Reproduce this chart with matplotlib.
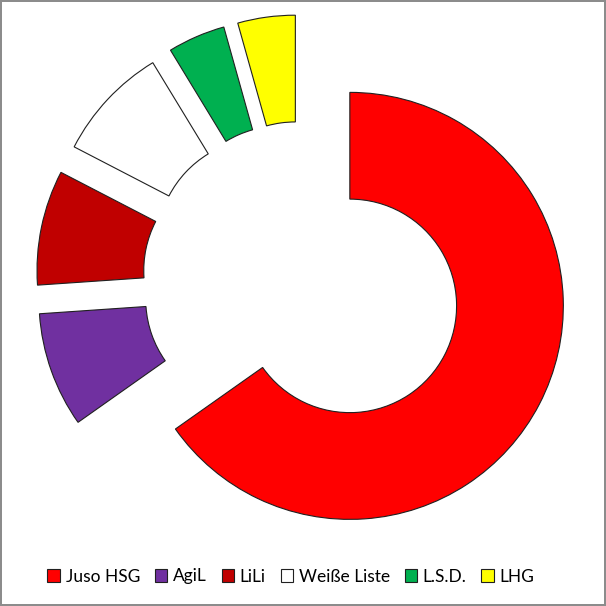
import matplotlib
matplotlib.use("Agg")
import matplotlib.pyplot as plt

# Sitze je Liste
listen = ["Juso HSG", "AgiL", "LiLi", "Weiße Liste", "L.S.D.", "LHG"]
sitze = [15, 2, 2, 2, 1, 1]
farben = ["#FF0000", "#7030A0", "#C00000", "#FFFFFF", "#00B050", "#FFFF00"]

plt.rcParams['font.family'] = ['Lato', 'DejaVu Sans']

fig = plt.figure(figsize=(6.06, 6.06), dpi=100)
fig.patch.set_edgecolor("#8c8c8c")
fig.patch.set_linewidth(1.5)
ax = fig.add_axes([0, 0, 1, 1])

r = 213.5
keile, _ = ax.pie(sitze, colors=farben, radius=r, center=(302.6, 324.6),
                  explode=[53.2] * len(sitze), startangle=90, counterclock=False,
                  wedgeprops=dict(width=r / 2, edgecolor="#202020", linewidth=0.8))
ax.set_xlim(0, 606)
ax.set_ylim(0, 606)
ax.set_aspect("equal")
ax.axis("off")

ax.legend(keile, listen, loc="center", bbox_to_anchor=(291 / 606, 29.5 / 606),
          ncol=6, frameon=False, fontsize=12.5, handlelength=0.7, handleheight=0.7,
          handletextpad=0.35, columnspacing=0.85, borderaxespad=0)

fig.savefig("out.png", dpi=100)
